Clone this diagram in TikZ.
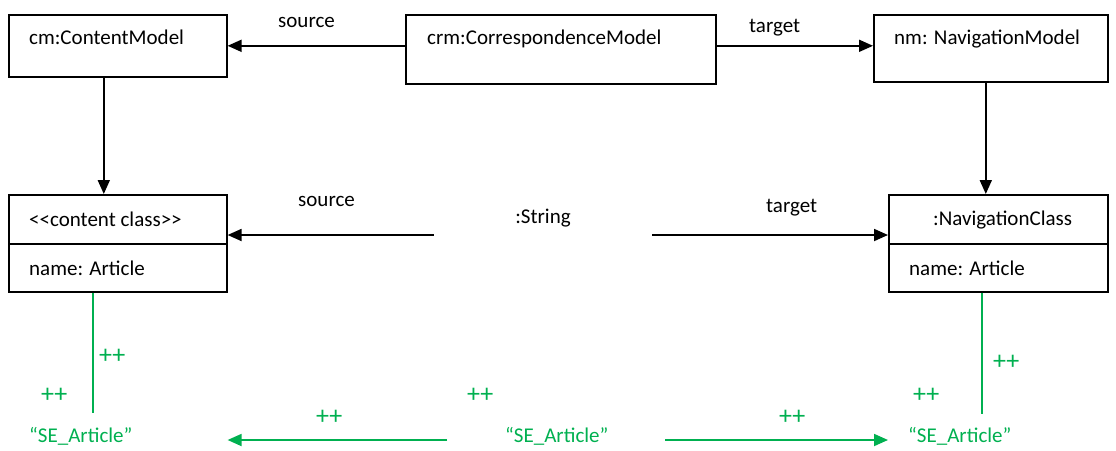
\documentclass[tikz,border=0pt]{standalone}
\usepackage{fontspec}
\setmainfont{Carlito}
\usetikzlibrary{arrows.meta}
\definecolor{umlgreen}{RGB}{0,176,80}

\begin{document}
\begin{tikzpicture}[x=1pt,y=-1pt,
  box/.style={draw,line width=1.6pt,inner sep=0pt,anchor=north west},
  txt/.style={font=\fontsize{21}{25}\selectfont,inner sep=0pt,anchor=base west},
  gtxt/.style={txt,text=umlgreen},
  plus/.style={gtxt,font=\fontsize{26}{30}\selectfont},
  arr/.style={line width=1.8pt,-{Triangle[length=14pt,width=12pt]}},
  garr/.style={line width=1.8pt,draw=umlgreen,-{Triangle[length=14pt,width=12pt]}},
  gline/.style={line width=1.6pt,draw=umlgreen}]
\useasboundingbox (0,0) rectangle (1116,450);

% model boxes
\node[box,minimum width=218pt,minimum height=62pt] (cm) at (8,14) {};
\node[box,minimum width=310pt,minimum height=69pt] (crm) at (405,14) {};
\node[box,minimum width=234pt,minimum height=67pt] (nm) at (873,14) {};
\node[txt] (cmt) at (29,44) {cm:ContentModel};
\node[txt] (crmt) at (427,44) {crm:CorrespondenceModel};
\node[txt] (nmt) at (894,44) {nm: NavigationModel};

% class boxes
\node[box,minimum width=218pt,minimum height=49pt] (cc) at (8,194) {};
\node[box,minimum width=218pt,minimum height=48pt] (cca) at (8,243) {};
\node[box,minimum width=219pt,minimum height=49pt] (nc) at (888,194) {};
\node[box,minimum width=219pt,minimum height=48pt] (nca) at (888,243) {};
\node[txt] (cct) at (29,226) {<{}<content class>{}>};
\node[txt] (ccat) at (29,275) {name: Article};
\node[txt] (nct) at (933,225) {:NavigationClass};
\node[txt] (ncat) at (909,275) {name: Article};

% the string value in between
\node[inner sep=0pt,minimum width=218pt,minimum height=34pt,font=\fontsize{21}{25}\selectfont] (str) at (543,218) {:String};
\coordinate (sw) at ([yshift=-17pt]str.west);
\coordinate (se) at ([yshift=-17pt]str.east);

% edge labels
\node[txt] (ls1) at (278,27) {source};
\node[txt] (lt1) at (749,32) {target};
\node[txt] (ls2) at (298,206) {source};
\node[txt] (lt2) at (766,212) {target};

% black connectors
\coordinate (ca) at ([xshift=-14pt]cm.south);
\coordinate (na) at ([xshift=-5pt]nm.south);
\draw[arr] (crm.west |- cm.east) -- (cm.east);
\draw[arr] (crm.east |- cm.east) -- (nm.west |- cm.east);
\draw[arr] (ca) -- (cc.north -| ca);
\draw[arr] (na) -- (nc.north -| na);
\draw[arr] (sw) -- (cc.east |- sw);
\draw[arr] (se) -- (nc.west |- se);

% value annotations
\node[gtxt] (se1) at (29,442) {“SE\_Article”};
\node[gtxt] (se2) at (505,442) {“SE\_Article”};
\node[gtxt] (se3) at (908,442) {“SE\_Article”};
\node[plus] (p1) at (99,363) {++};
\node[plus] (p2) at (41,402) {++};
\node[plus] (p3) at (316,424) {++};
\node[plus] (p4) at (467,402) {++};
\node[plus] (p5) at (779,424) {++};
\node[plus] (p6) at (993,369) {++};
\node[plus] (p7) at (913,402) {++};

\coordinate (g1) at (93,413);
\coordinate (g2) at (982,414);
\coordinate (ga) at (447,440);
\coordinate (gb) at (665,440);
\draw[gline] (cca.south -| g1) -- (g1);
\draw[gline] (nca.south -| g2) -- (g2);
\draw[garr] (ga) -- (cc.east |- ga);
\draw[garr] (gb) -- (nc.west |- gb);
\end{tikzpicture}
\end{document}
